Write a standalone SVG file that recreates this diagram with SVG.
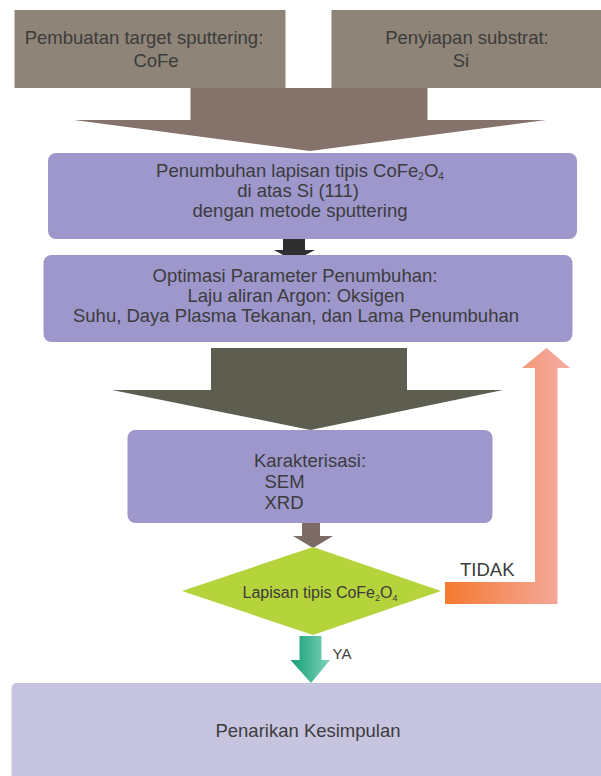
<svg xmlns="http://www.w3.org/2000/svg" width="601" height="776" viewBox="0 0 601 776">
  <defs>
    <linearGradient id="gOrange" gradientUnits="userSpaceOnUse" x1="445" y1="0" x2="560" y2="0">
      <stop offset="0" stop-color="#f47a30"/>
      <stop offset="1" stop-color="#f5a89c"/>
    </linearGradient>
    <linearGradient id="gGreen" gradientUnits="userSpaceOnUse" x1="290" y1="0" x2="332" y2="0">
      <stop offset="0" stop-color="#139d74"/>
      <stop offset="1" stop-color="#82d7bf"/>
    </linearGradient>
    <style>
      text { font-family: "Liberation Sans", Arial, sans-serif; fill: #3c3c3c; font-size: 18.5px; }
      .mid { text-anchor: middle; }
      .top { fill: #8e8478; }
      .lav { fill: #9d97cc; }
      .sub { font-size: 10px; }
    </style>
  </defs>
  <rect width="601" height="776" fill="#ffffff"/>

  <g id="connectors">
    <polygon id="arrow-top" fill="#85726a" points="190.5,88 427.5,88 427.5,120 546,120 310,151 74,120 190.5,120"/>
    <polygon id="arrow-black" fill="#2e2e2e" points="283,237 305,237 305,250 315,250 294,261 274,250 283,250"/>
    <polygon id="arrow-dark" fill="#5e5e50" points="211,348 407,348 407,390 503,390 310.5,430 112,390 211,390"/>
    <polygon id="arrow-brown" fill="#7d6b66" points="302,522 320,522 320,536 333,536 313,548 293,536 302,536"/>
    <polygon id="arrow-tidak" fill="url(#gOrange)" points="445,582 535,582 535,368 522,368 546.5,348 570,368 557.5,368 557.5,604 445,604"/>
    <text x="460" y="576">TIDAK</text>
    <polygon id="arrow-ya" fill="url(#gGreen)" points="299.5,636 321.5,636 321.5,660 330,660 311,683 290.5,660 299.5,660"/>
    <text x="332.5" y="658.5" style="font-size:15px">YA</text>
  </g>

  <g id="node-target">
    <rect class="top" x="14.5" y="10" width="271" height="78"/>
    <text class="mid" x="144" y="44">Pembuatan target sputtering:</text>
    <text class="mid" x="156" y="67">CoFe</text>
  </g>

  <g id="node-substrat">
    <rect class="top" x="331.5" y="10" width="270" height="78"/>
    <text class="mid" x="467" y="44">Penyiapan substrat:</text>
    <text class="mid" x="461" y="67">Si</text>
  </g>

  <g id="node-penumbuhan">
    <rect class="lav" x="48" y="153" width="529" height="86" rx="8"/>
    <text class="mid" x="300" y="177">Penumbuhan lapisan tipis CoFe<tspan class="sub" dy="3">2</tspan><tspan dy="-3">O</tspan><tspan class="sub" dy="3">4</tspan></text>
    <text class="mid" x="298" y="197">di atas Si (111)</text>
    <text class="mid" x="300" y="217">dengan metode sputtering</text>
  </g>

  <g id="node-optimasi">
    <rect class="lav" x="43.5" y="255" width="529" height="87" rx="8"/>
    <text class="mid" x="295" y="282">Optimasi Parameter Penumbuhan:</text>
    <text class="mid" x="296" y="302">Laju aliran Argon: Oksigen</text>
    <text class="mid" x="296" y="322">Suhu, Daya Plasma Tekanan, dan Lama Penumbuhan</text>
  </g>

  <g id="node-karakterisasi">
    <rect class="lav" x="127.5" y="430" width="365" height="93" rx="8"/>
    <text class="mid" x="310" y="467">Karakterisasi:</text>
    <text x="264.5" y="488">SEM</text>
    <text x="264.5" y="509">XRD</text>
  </g>

  <g id="node-keputusan">
    <polygon fill="#b5d33a" points="313,547 441,591 313,635 182,591"/>
    <text class="mid" x="320" y="598" style="font-size:16px">Lapisan tipis CoFe<tspan style="font-size:9px" dy="3">2</tspan><tspan dy="-3">O</tspan><tspan style="font-size:9px" dy="3">4</tspan></text>
  </g>

  <g id="node-kesimpulan">
    <rect x="11.5" y="683" width="595" height="100" rx="5" fill="#c7c4e0"/>
    <text class="mid" x="308" y="737">Penarikan Kesimpulan</text>
  </g>
</svg>
